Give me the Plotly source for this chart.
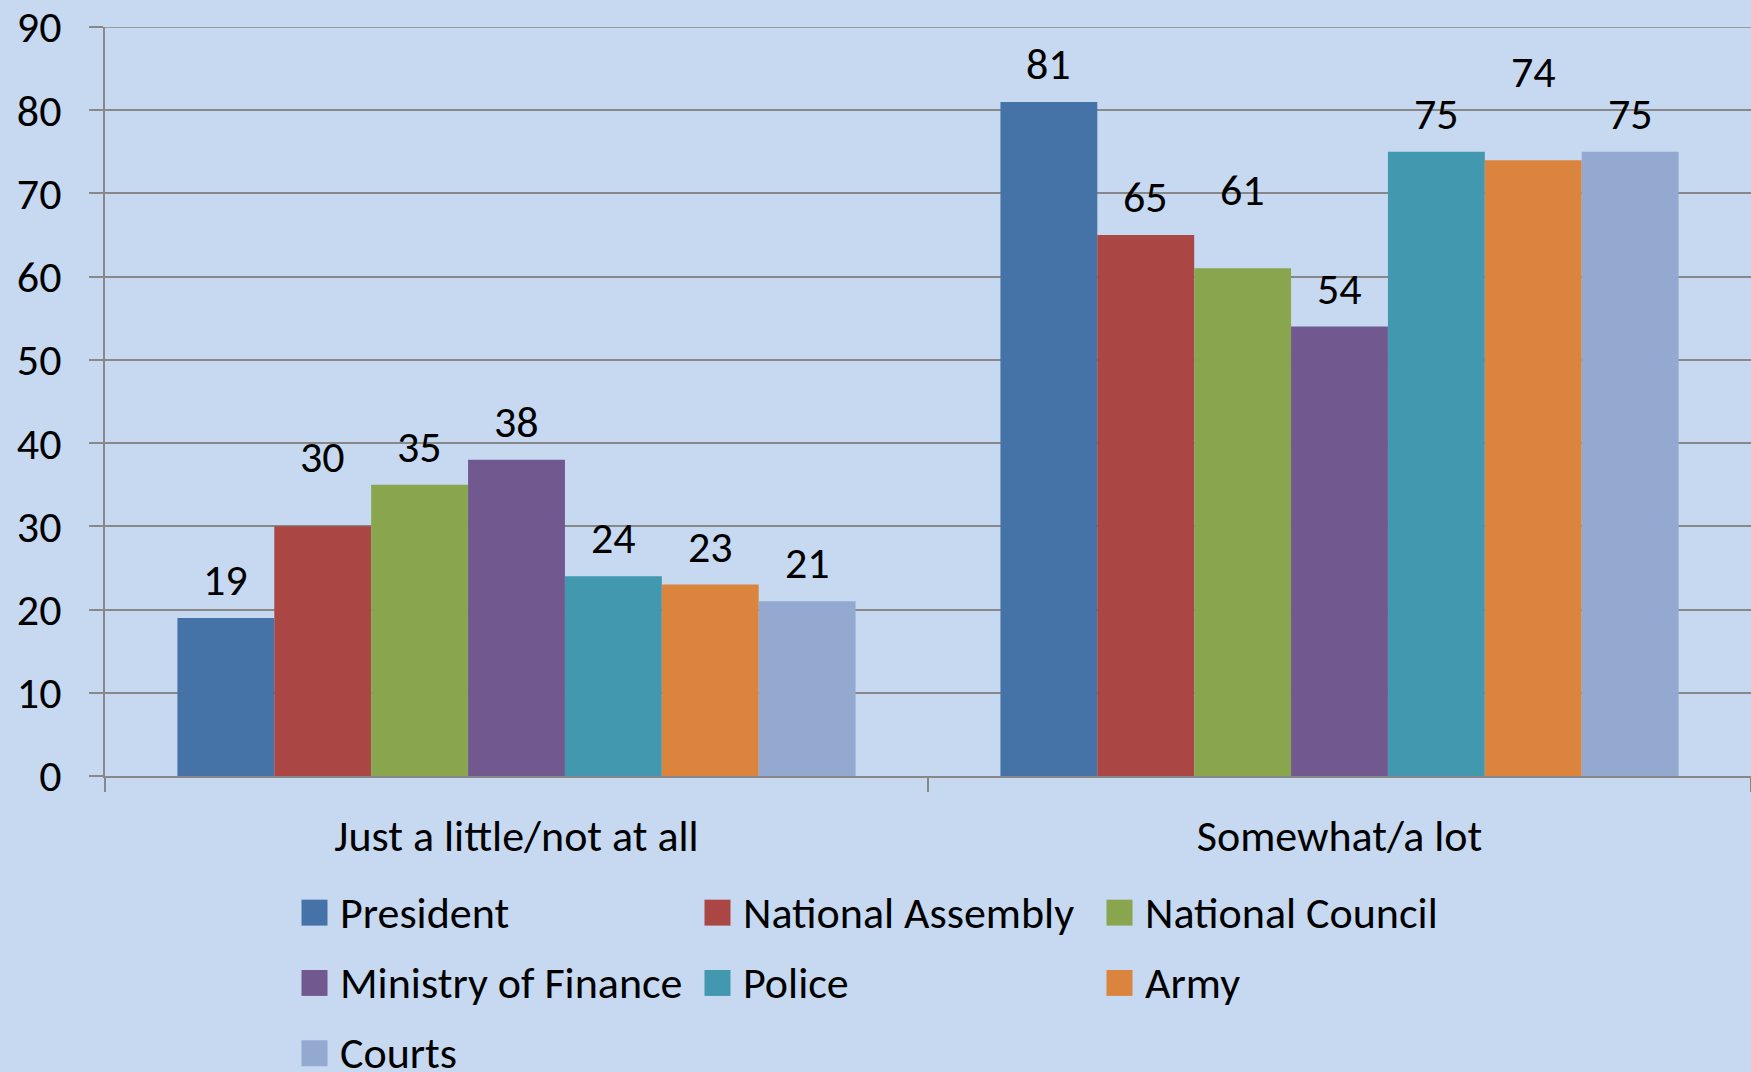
import plotly.graph_objects as go

# ---------------- data ----------------
categories = ["Just a little/not at all", "Somewhat/a lot"]
series_names = ["President", "National Assembly", "National Council",
                "Ministry of Finance", "Police", "Army", "Courts"]
president = [19, 81]
national_assembly = [30, 65]
national_council = [35, 61]
ministry_of_finance = [38, 54]
police = [24, 75]
army = [23, 74]
courts = [21, 75]
series_values = [president, national_assembly, national_council,
                 ministry_of_finance, police, army, courts]
y_tick_values = [0, 10, 20, 30, 40, 50, 60, 70, 80, 90]

# ---------------- style ----------------
colors = ["#4572A7", "#AA4643", "#89A54E", "#71588F", "#4198AF", "#DB843D", "#93A9CF"]
BG = "#C6D9F1"
GRID = "#888888"
FONT = "Carlito, Lato, sans-serif"
FS = 44

W, H = 1751, 1072
ML, MR, MT, MB = 105, 0, 25, 296
PW = W - ML - MR
PH = H - MT - MB
BARGAP = 0.176

# extra upward shift of a few data labels (Excel collision avoidance)
label_lift = {(1, 0): 31, (2, 1): 40, (5, 1): 50}

fig = go.Figure()
for i, (name, vals) in enumerate(zip(series_names, series_values)):
    fig.add_trace(go.Bar(name=name, x=categories, y=vals,
                         marker=dict(color=colors[i], line=dict(width=0)),
                         showlegend=False))

# data labels
nser = len(series_names)
bw_px = PW / len(categories) * (1 - BARGAP) / nser
annotations = []
for i, vals in enumerate(series_values):
    for j, v in enumerate(vals):
        annotations.append(dict(
            x=categories[j], y=v, xref="x", yref="y",
            text=str(v), showarrow=False,
            xshift=(i - (nser - 1) / 2) * bw_px,
            yshift=38 + label_lift.get((i, j), 0),
            yanchor="middle", xanchor="center",
            font=dict(family=FONT, size=FS, color="black")))

# top gridline (range maximum) drawn explicitly
shapes = [dict(type="line", xref="paper", yref="y", x0=0, x1=1,
               y0=y_tick_values[-1], y1=y_tick_values[-1],
               line=dict(color=GRID, width=1.5), layer="below")]

# manual legend
col_x = [301.5, 704.5, 1106.5]
row_y0, row_dy = 913, 70.5
sq = 26
for i, name in enumerate(series_names):
    px = col_x[i % 3]
    py = row_y0 + (i // 3) * row_dy
    shapes.append(dict(type="rect", xref="paper", yref="paper",
                       x0=(px - ML) / PW, x1=(px + sq - ML) / PW,
                       y0=(H - MB - (py + sq / 2)) / PH,
                       y1=(H - MB - (py - sq / 2)) / PH,
                       fillcolor=colors[i], line=dict(width=0)))
    annotations.append(dict(
        x=(px + sq + 10 - ML) / PW, y=(H - MB - py) / PH,
        xref="paper", yref="paper", text=name, showarrow=False,
        xanchor="left", yanchor="middle",
        font=dict(family=FONT, size=FS, color="black")))

fig.update_layout(
    width=W, height=H,
    margin=dict(l=ML, r=MR, t=MT, b=MB),
    paper_bgcolor=BG, plot_bgcolor=BG,
    barmode="group", bargap=BARGAP, bargroupgap=0,
    font=dict(family=FONT, size=FS, color="black"),
    annotations=annotations, shapes=shapes,
    showlegend=False,
)
fig.update_yaxes(range=[0, 90], tickvals=y_tick_values,
                 ticks="outside", ticklen=14, tickwidth=1.5, tickcolor=GRID,
                 showgrid=True, gridcolor=GRID, gridwidth=1.5,
                 showline=True, linecolor=GRID, linewidth=1.5,
                 zeroline=False, ticklabelstandoff=19,
                 ticklabeloverflow="allow",
                 tickfont=dict(family=FONT, size=FS, color="black"))
fig.update_xaxes(range=[-0.5, 1.5], tickson="boundaries",
                 ticks="outside", ticklen=14, tickwidth=1.5, tickcolor=GRID,
                 showline=True, linecolor=GRID, linewidth=1.5,
                 showgrid=False, ticklabelstandoff=20,
                 ticklabeloverflow="allow",
                 tickfont=dict(family=FONT, size=FS, color="black"))

fig.write_html("out.html",
               config={"displayModeBar": False},
               post_script="document.body.style.margin='0';"
                           "document.body.style.overflow='hidden';")
